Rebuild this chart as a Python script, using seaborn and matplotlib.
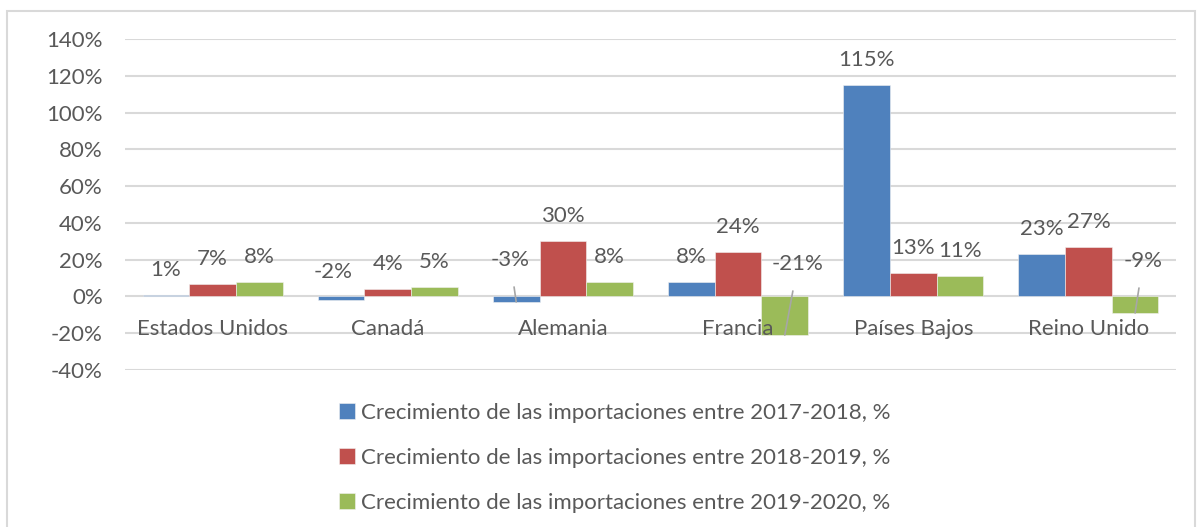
import matplotlib
matplotlib.use("Agg")
import matplotlib.pyplot as plt
import matplotlib.patches as mpatches
import seaborn as sns
import pandas as pd
from matplotlib.ticker import FuncFormatter, MultipleLocator

# ---- data ----
countries = ["Estados Unidos", "Canadá", "Alemania", "Francia", "Países Bajos", "Reino Unido"]
series_names = [
    "Crecimiento de las importaciones entre 2017-2018, %",
    "Crecimiento de las importaciones entre 2018-2019, %",
    "Crecimiento de las importaciones entre 2019-2020, %",
]
growth_2017_2018 = [1, -2, -3, 8, 115, 23]
growth_2018_2019 = [7, 4, 30, 24, 13, 27]
growth_2019_2020 = [8, 5, 8, -21, 11, -9]
colors = ["#4F81BD", "#C0504D", "#9BBB59"]

rows = []
for name, vals in zip(series_names, [growth_2017_2018, growth_2018_2019, growth_2019_2020]):
    for c, v in zip(countries, vals):
        rows.append({"country": c, "series": name, "value": v})
df = pd.DataFrame(rows)

# ---- style ----
sns.set_theme(style="white")
plt.rcParams["font.family"] = ["Lato", "DejaVu Sans"]
TXT = "#595959"
FS = 16

fig = plt.figure(figsize=(12, 5.27), dpi=100)
ax = fig.add_axes([125 / 1200, 1 - 370 / 527, (1176 - 125) / 1200, (370 - 39) / 527])

sns.barplot(data=df, x="country", y="value", hue="series", palette=colors,
            width=0.8, ax=ax, edgecolor="#F2F2F2", linewidth=0.4, saturation=1)

ax.set_ylim(-40, 140)
ax.yaxis.set_major_locator(MultipleLocator(20))
ax.yaxis.set_major_formatter(FuncFormatter(lambda v, p: f"{v:.0f}%"))
ax.set_xlim(-0.5, len(countries) - 0.5)
ax.grid(axis="y", color="#D9D9D9", linewidth=1.5)
ax.set_axisbelow(True)
ax.xaxis.set_zorder(4)
for s in ["top", "right", "left"]:
    ax.spines[s].set_visible(False)
ax.spines["bottom"].set_position(("data", 0))
ax.spines["bottom"].set_color("none")
ax.tick_params(axis="x", length=0, pad=16, labelsize=FS, labelcolor=TXT)
ax.tick_params(axis="y", length=0, pad=16, labelsize=FS, labelcolor=TXT)
ax.set_xlabel("")
ax.set_ylabel("")

# ---- data labels ----
# manual label offsets (pixels) for negative bars: (dx, dy from bar end, leader line)
special = {
    (1, 0): (-8, 28, False),
    (2, 0): (-6, 42, True),
    (3, 2): (13, 71, True),
    (5, 2): (8, 52, True),
}
all_vals = [growth_2017_2018, growth_2018_2019, growth_2019_2020]
for si, cont in enumerate(ax.containers):
    for ci, bar in enumerate(cont):
        v = all_vals[si][ci]
        xc = bar.get_x() + bar.get_width() / 2
        label = f"{v}%"
        if (ci, si) in special:
            dx, dy, line = special[(ci, si)]
            ax.annotate(label, xy=(xc, v), xytext=(dx, dy), textcoords="offset pixels",
                        ha="center", va="center", fontsize=FS, color=TXT, zorder=5,
                        arrowprops=dict(arrowstyle="-", color="#A6A6A6", lw=1.2,
                                        shrinkA=10, shrinkB=0) if line else None)
        else:
            ax.annotate(label, xy=(xc, max(v, 0)), xytext=(0, 25), textcoords="offset pixels",
                        ha="center", va="center", fontsize=FS, color=TXT, zorder=5)

# ---- legend ----
handles, labels = ax.get_legend_handles_labels()
if ax.legend_ is not None:
    ax.legend_.remove()
fig.legend(handles, labels, loc="upper center", bbox_to_anchor=(615 / 1200, 1 - 383 / 527),
           ncol=1, frameon=False, fontsize=FS, labelcolor=TXT,
           handlelength=0.7, handleheight=0.7, handletextpad=0.3, labelspacing=1.12)

# ---- outer frame ----
fig.patches.append(mpatches.Rectangle((7 / 1200, -0.05), (1195 - 7) / 1200, 1.05 - 11 / 527,
                                      transform=fig.transFigure, fill=False,
                                      edgecolor="#D9D9D9", linewidth=1.5))

fig.savefig("out.png", dpi=100)
